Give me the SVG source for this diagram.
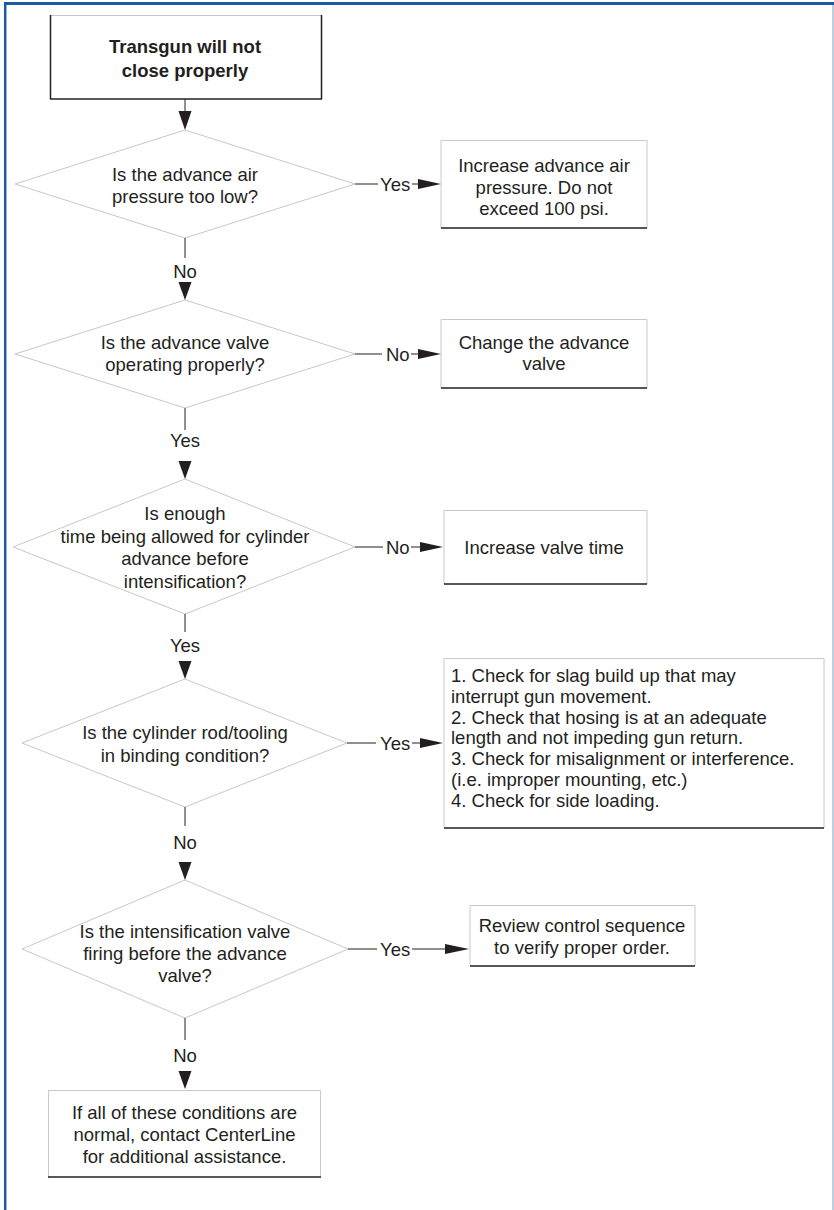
<svg xmlns="http://www.w3.org/2000/svg" width="834" height="1210" viewBox="0 0 834 1210">
  <style>
    text { font-family: "Liberation Sans", Arial, sans-serif; font-size: 18.5px; fill: #231f20; }
    .c { text-anchor: middle; }
    .b { font-weight: bold; }
    .dia { fill: #ffffff; stroke: #c8c8c8; stroke-width: 1; }
    .lite { stroke: #c8c8c8; stroke-width: 1; fill: none; }
    .dark { stroke: #231f20; stroke-width: 1.5; fill: none; }
    .wire { stroke: #231f20; stroke-width: 1; fill: none; }
    .head { fill: #231f20; }
  </style>

  <!-- page frame -->
  <g id="frame">
    <rect x="0" y="0" width="834" height="1210" fill="#ffffff"/>
    <line x1="4" y1="3.5" x2="834" y2="3.5" stroke="#1b5aa5" stroke-width="3"/>
    <line x1="5.2" y1="2" x2="5.2" y2="1210" stroke="#1b5aa5" stroke-width="2.5"/>
    <line x1="833" y1="5" x2="833" y2="1210" stroke="#a9c0d6" stroke-width="1.5"/>
  </g>

  <!-- start box -->
  <g id="start">
    <line class="lite" x1="50" y1="15.5" x2="322" y2="15.5"/>
    <line class="dark" x1="50.5" y1="15" x2="50.5" y2="99"/>
    <line class="dark" x1="321.5" y1="15" x2="321.5" y2="99"/>
    <line class="dark" x1="50" y1="99" x2="322" y2="99"/>
    <text class="c b" x="185" y="52.5">Transgun will not</text>
    <text class="c b" x="185" y="76.5">close properly</text>
  </g>

  <!-- decision 1 -->
  <g id="q1">
    <polygon class="dia" points="185,130 355,184 185,238 15,184"/>
    <text class="c" x="185" y="180.5">Is the advance air</text>
    <text class="c" x="185" y="202.5">pressure too low?</text>
  </g>

  <g id="a1">
    <polyline class="lite" points="441,228 441,140.5 647,140.5 647,228"/>
    <line class="dark" x1="441" y1="228" x2="647" y2="228"/>
    <text class="c" x="544" y="171.5">Increase advance air</text>
    <text class="c" x="544" y="193.5">pressure. Do not</text>
    <text class="c" x="544" y="215">exceed 100 psi.</text>
  </g>

  <!-- decision 2 -->
  <g id="q2">
    <polygon class="dia" points="185,300 355,354 185,408 15,354"/>
    <text class="c" x="185" y="349">Is the advance valve</text>
    <text class="c" x="185" y="371">operating properly?</text>
  </g>

  <g id="a2">
    <polyline class="lite" points="441,388 441,319.5 647,319.5 647,388"/>
    <line class="dark" x1="441" y1="388" x2="647" y2="388"/>
    <text class="c" x="544" y="348.5">Change the advance</text>
    <text class="c" x="544" y="370">valve</text>
  </g>

  <!-- decision 3 -->
  <g id="q3">
    <polygon class="dia" points="185,479 355,547 185,614 13,547"/>
    <text class="c" x="185" y="519.5">Is enough</text>
    <text class="c" x="185" y="542.5">time being allowed for cylinder</text>
    <text class="c" x="185" y="564.5">advance before</text>
    <text class="c" x="185" y="587.5">intensification?</text>
  </g>

  <g id="a3">
    <polyline class="lite" points="444,584 444,510.5 647,510.5 647,584"/>
    <line class="dark" x1="444" y1="584" x2="647" y2="584"/>
    <text class="c" x="544" y="553.5">Increase valve time</text>
  </g>

  <!-- decision 4 -->
  <g id="q4">
    <polygon class="dia" points="185,679 347,743 185,807 22,743"/>
    <text class="c" x="185" y="738.5">Is the cylinder rod/tooling</text>
    <text class="c" x="185" y="761.5">in binding condition?</text>
  </g>

  <g id="a4">
    <polyline class="lite" points="444,828 444,658.5 824,658.5 824,828"/>
    <line class="dark" x1="444" y1="828" x2="824" y2="828"/>
    <text x="451" y="681.5">1. Check for slag build up that may</text>
    <text x="451" y="702.5">interrupt gun movement.</text>
    <text x="451" y="723.5">2. Check that hosing is at an adequate</text>
    <text x="451" y="744">length and not impeding gun return.</text>
    <text x="451" y="765">3. Check for misalignment or interference.</text>
    <text x="451" y="786">(i.e. improper mounting, etc.)</text>
    <text x="451" y="807">4. Check for side loading.</text>
  </g>

  <!-- decision 5 -->
  <g id="q5">
    <polygon class="dia" points="185,880 348,949 185,1018 22,949"/>
    <text class="c" x="185" y="937.5">Is the intensification valve</text>
    <text class="c" x="185" y="959.5">firing before the advance</text>
    <text class="c" x="185" y="981.5">valve?</text>
  </g>

  <g id="a5">
    <polyline class="lite" points="470,966 470,905.5 695,905.5 695,966"/>
    <line class="dark" x1="470" y1="966" x2="695" y2="966"/>
    <text class="c" x="582" y="931.5">Review control sequence</text>
    <text class="c" x="582" y="953.5">to verify proper order.</text>
  </g>

  <!-- final box -->
  <g id="end">
    <polyline class="lite" points="48.5,1177 48.5,1090.5 320.5,1090.5 320.5,1177"/>
    <line class="dark" x1="48" y1="1177" x2="321" y2="1177"/>
    <text class="c" x="184.5" y="1118.5">If all of these conditions are</text>
    <text class="c" x="184.5" y="1140.5">normal, contact CenterLine</text>
    <text class="c" x="184.5" y="1162.5">for additional assistance.</text>
  </g>

  <!-- connectors -->
  <g id="connectors">
    <!-- start to q1 -->
    <line class="wire" x1="185" y1="99" x2="185" y2="112"/>
    <polygon class="head" points="178.5,111 191.5,111 185,130"/>

    <!-- q1 yes -->
    <line class="wire" x1="355" y1="184" x2="378" y2="184"/>
    <text x="380" y="190.5">Yes</text>
    <line class="wire" x1="412" y1="184" x2="420" y2="184"/>
    <polygon class="head" points="418,179 441,184 418,189"/>

    <!-- q1 no -->
    <line class="wire" x1="185" y1="238" x2="185" y2="258"/>
    <text class="c" x="185" y="277.5">No</text>
    <polygon class="head" points="178.5,282 191.5,282 185,300"/>

    <!-- q2 no -->
    <line class="wire" x1="355" y1="354" x2="382" y2="354"/>
    <text x="386" y="360.5">No</text>
    <line class="wire" x1="411" y1="354" x2="420" y2="354"/>
    <polygon class="head" points="418,349 441,354 418,359"/>

    <!-- q2 yes -->
    <line class="wire" x1="185" y1="408" x2="185" y2="430"/>
    <text class="c" x="185" y="446.5">Yes</text>
    <polygon class="head" points="178.5,461 191.5,461 185,479"/>

    <!-- q3 no -->
    <line class="wire" x1="355" y1="547" x2="383" y2="547"/>
    <text x="386" y="553.5">No</text>
    <line class="wire" x1="411" y1="547" x2="422" y2="547"/>
    <polygon class="head" points="420,542 443,547 420,552"/>

    <!-- q3 yes -->
    <line class="wire" x1="185" y1="614" x2="185" y2="632"/>
    <text class="c" x="185" y="651.5">Yes</text>
    <polygon class="head" points="178.5,661 191.5,661 185,679"/>

    <!-- q4 yes -->
    <line class="wire" x1="347" y1="743" x2="376" y2="743"/>
    <text x="380" y="749.5">Yes</text>
    <line class="wire" x1="412" y1="743" x2="422" y2="743"/>
    <polygon class="head" points="420,738 443,743 420,748"/>

    <!-- q4 no -->
    <line class="wire" x1="185" y1="807" x2="185" y2="826"/>
    <text class="c" x="185" y="848.5">No</text>
    <polygon class="head" points="178.5,862 191.5,862 185,880"/>

    <!-- q5 yes -->
    <line class="wire" x1="348" y1="949" x2="377" y2="949"/>
    <text x="380" y="955.5">Yes</text>
    <line class="wire" x1="412" y1="949" x2="447" y2="949"/>
    <polygon class="head" points="445,944 469,949 445,954"/>

    <!-- q5 no -->
    <line class="wire" x1="185" y1="1018" x2="185" y2="1040"/>
    <text class="c" x="185" y="1061.5">No</text>
    <polygon class="head" points="178.5,1071 191.5,1071 185,1089"/>
  </g>
</svg>
